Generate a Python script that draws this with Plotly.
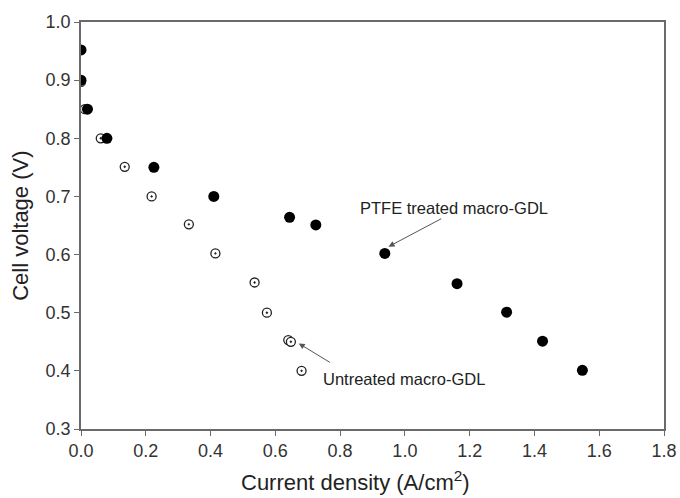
import plotly.graph_objects as go

# Polarization data: current density (A/cm^2) vs cell voltage (V)
ptfe_current = [0.0, 0.0, 0.02, 0.08, 0.225, 0.41, 0.644, 0.725, 0.938, 1.161, 1.314, 1.425, 1.548]
ptfe_voltage = [0.952, 0.90, 0.85, 0.80, 0.75, 0.70, 0.664, 0.651, 0.602, 0.550, 0.501, 0.451, 0.401]

untreated_current = [0.0, 0.012, 0.061, 0.135, 0.218, 0.333, 0.415, 0.536, 0.574, 0.640, 0.648, 0.681]
untreated_voltage = [0.897, 0.85, 0.80, 0.751, 0.70, 0.652, 0.602, 0.552, 0.500, 0.453, 0.450, 0.400]

x_ticks = [0.0, 0.2, 0.4, 0.6, 0.8, 1.0, 1.2, 1.4, 1.6, 1.8]
y_ticks = [0.3, 0.4, 0.5, 0.6, 0.7, 0.8, 0.9, 1.0]

FONT = "Liberation Sans, Arial, sans-serif"
AXIS_GREY = "#6a6a6a"

fig = go.Figure()

fig.add_trace(go.Scatter(
    x=untreated_current, y=untreated_voltage, mode="markers",
    name="Untreated macro-GDL",
    marker=dict(symbol="circle-dot", size=9, color="white",
                line=dict(color="#222222", width=1.3)),
))
fig.add_trace(go.Scatter(
    x=ptfe_current, y=ptfe_voltage, mode="markers",
    name="PTFE treated macro-GDL",
    marker=dict(symbol="circle", size=11, color="black",
                line=dict(color="black", width=0)),
))

axis_common = dict(
    showline=True, linecolor=AXIS_GREY, linewidth=1.5, mirror=True,
    ticks="outside", ticklen=5, tickwidth=1.2, tickcolor=AXIS_GREY,
    showgrid=False, zeroline=False, automargin=False,
    tickfont=dict(family=FONT, size=18, color="#333333"),
)

fig.update_xaxes(range=[0, 1.8], tickvals=x_ticks, tickformat=".1f", **axis_common)
fig.update_yaxes(range=[0.3, 1.0], tickvals=y_ticks, tickformat=".1f", **axis_common)

# Axis titles placed relative to the plot area
title_font = dict(family=FONT, size=22, color="#222222")
fig.add_annotation(text="Current density (A/cm<sup>2</sup>)", xref="paper", yref="paper",
                   x=0.47, y=-0.1667, xanchor="center", yanchor="bottom",
                   showarrow=False, font=title_font)
fig.add_annotation(text="Cell voltage (V)", xref="paper", yref="paper",
                   x=-0.104, y=0.5, xanchor="center", yanchor="middle",
                   textangle=-90, showarrow=False, font=title_font)

# Arrows pointing at each curve, with their labels
arrow_style = dict(showarrow=True, arrowhead=2, arrowsize=1.2, arrowwidth=1,
                   arrowcolor="#555555", axref="x", ayref="y", text="")
fig.add_annotation(x=0.944, y=0.612, ax=1.117, ay=0.663, standoff=2, **arrow_style)
fig.add_annotation(x=0.667, y=0.449, ax=0.773, ay=0.413, standoff=2, **arrow_style)

label_font = dict(family=FONT, size=16.5, color="#222222")
fig.add_annotation(x=1.153, y=0.680, text="PTFE treated macro-GDL",
                   showarrow=False, font=label_font)
fig.add_annotation(x=0.998, y=0.386, text="Untreated macro-GDL",
                   showarrow=False, font=label_font)

fig.update_layout(
    width=680, height=498,
    margin=dict(l=81, r=16, t=22, b=69),
    paper_bgcolor="white", plot_bgcolor="white",
    showlegend=False,
)

fig.write_html("out.html")
